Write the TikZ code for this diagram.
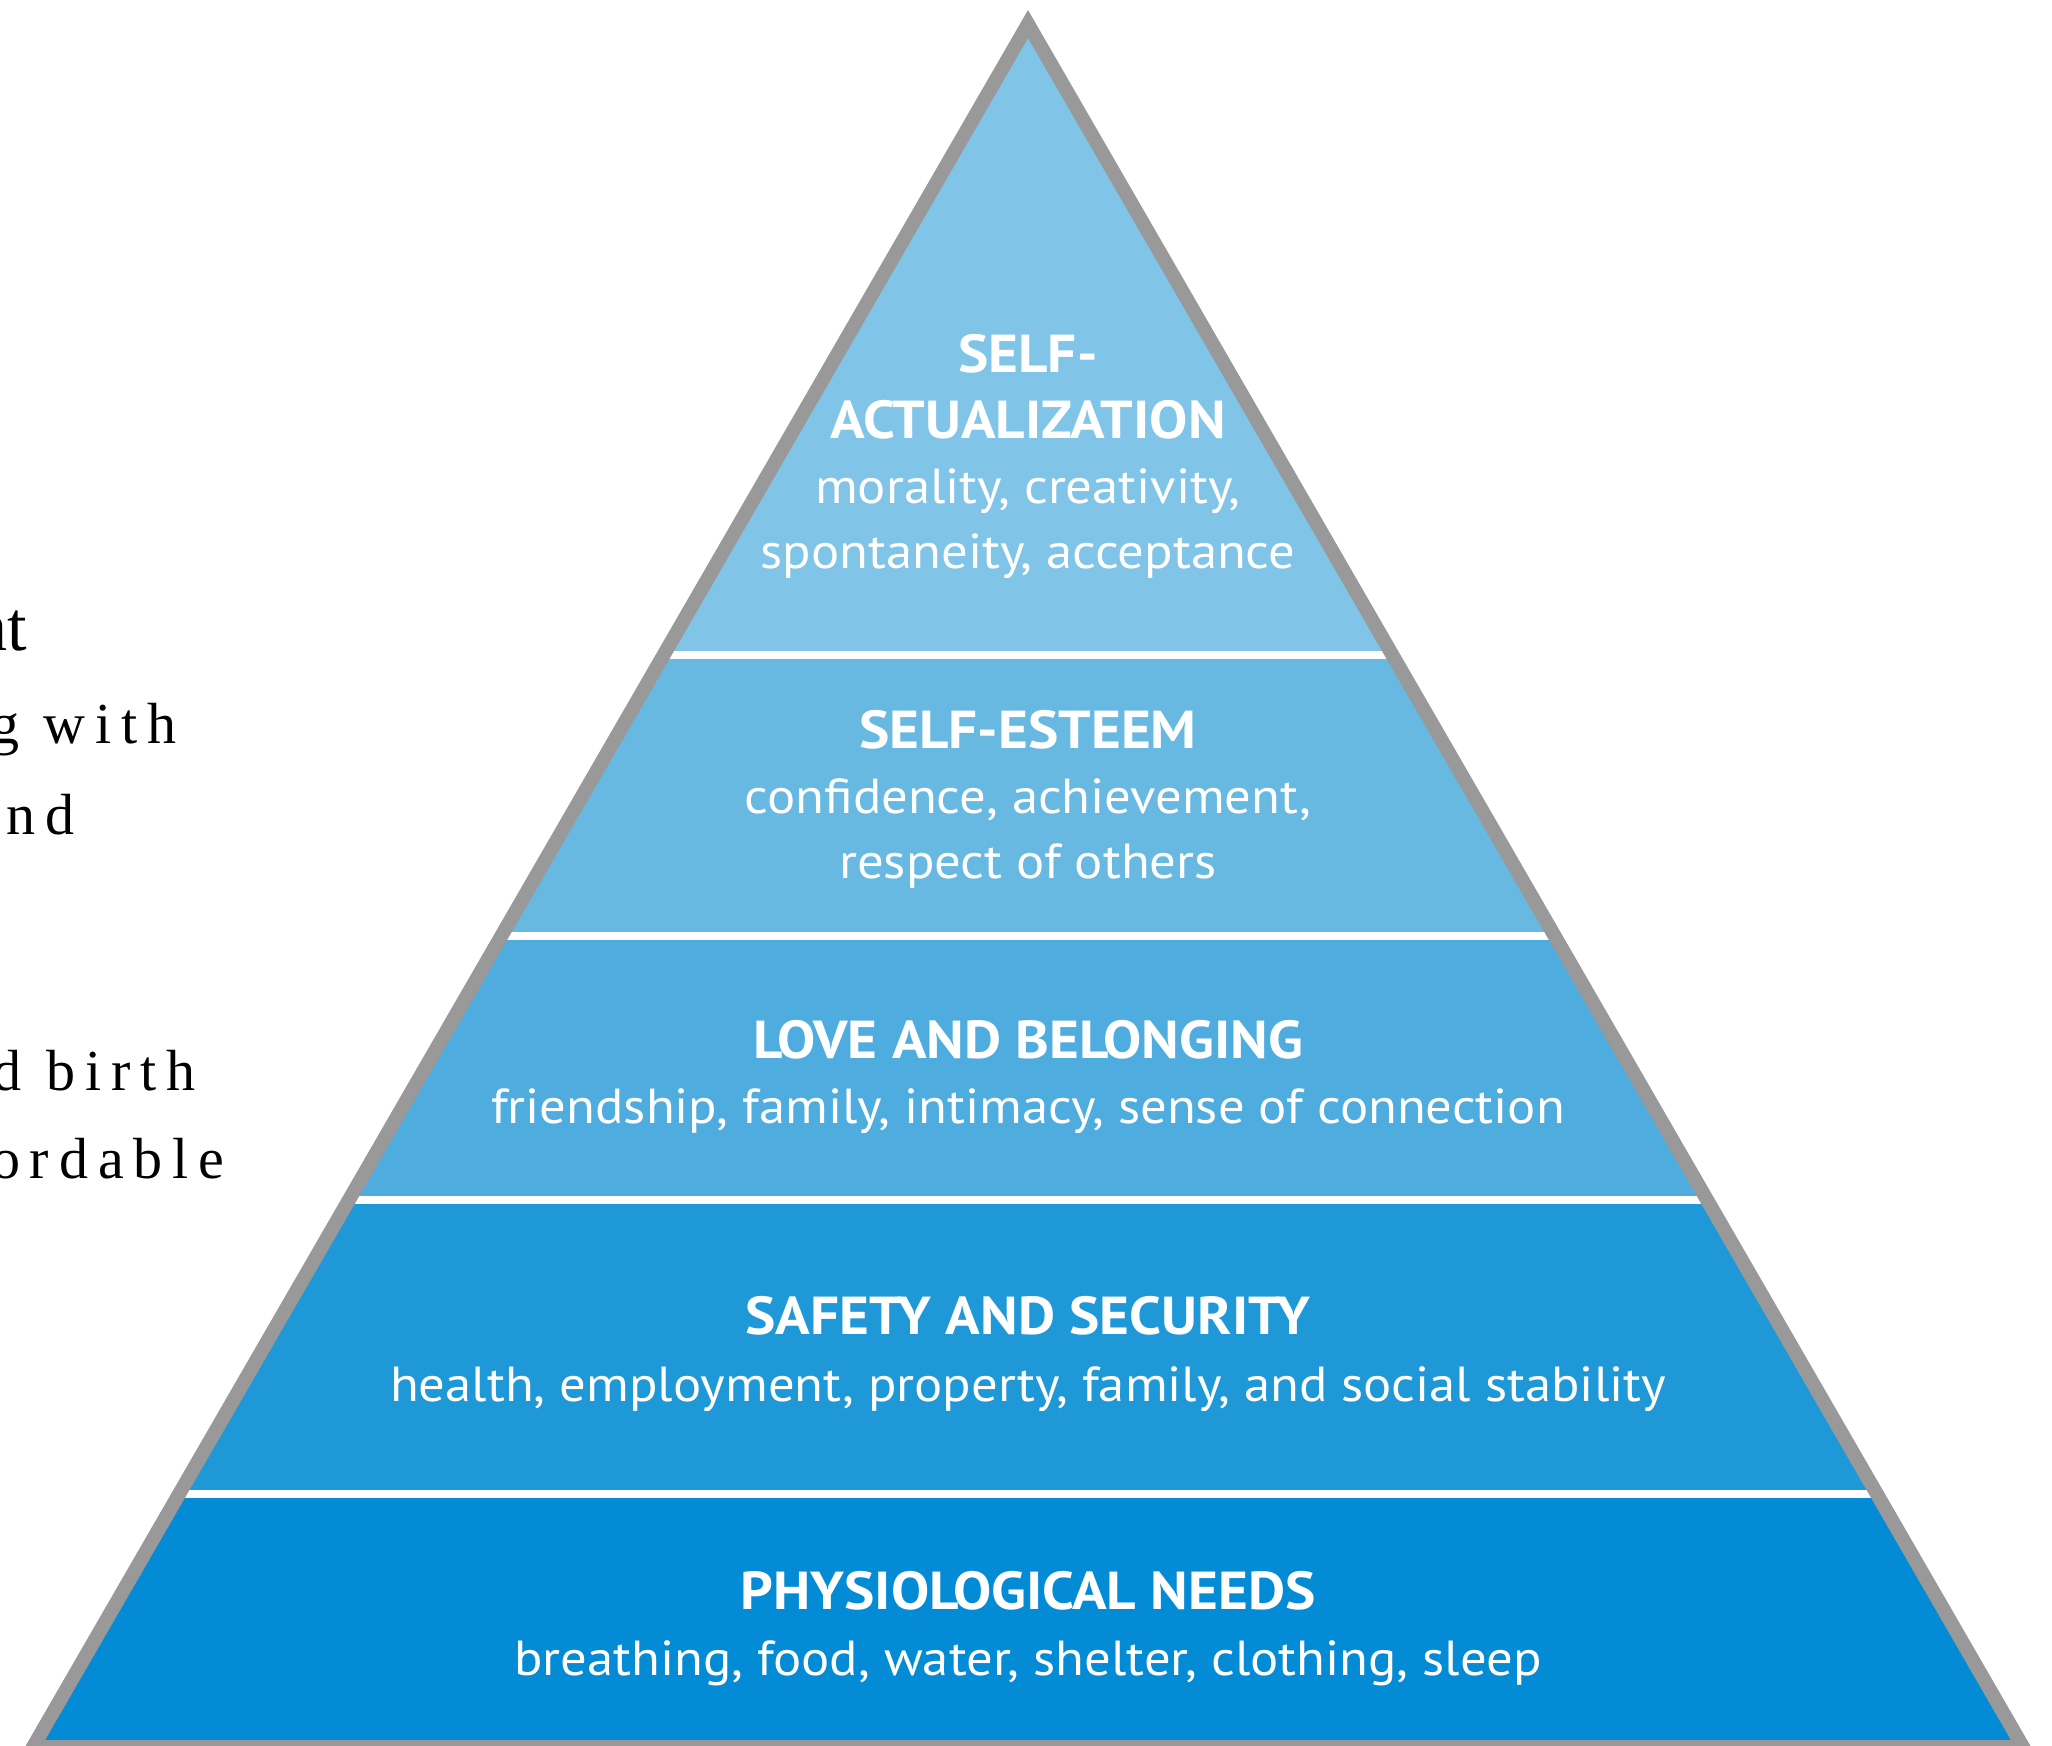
\documentclass[tikz,border=0pt]{standalone}
\usepackage{fontspec}
\setmainfont{PT Sans}[FakeStretch=1.07]
\newfontfamily\pagefont[LetterSpace=17]{Liberation Serif}
\newfontfamily\pagefontplain{Liberation Serif}
\usetikzlibrary{positioning}

\definecolor{tiertop}{HTML}{80C4E7}
\definecolor{tierfour}{HTML}{67B9E2}
\definecolor{tierthree}{HTML}{4EACDE}
\definecolor{tiertwo}{HTML}{1E98D6}
\definecolor{tierbase}{HTML}{048BD5}
\definecolor{rimgrey}{HTML}{999999}

\begin{document}
\begin{tikzpicture}[x=0.01cm, y=-0.01cm,
head/.style={text=white, font=\fontsize{15.2}{18}\selectfont\bfseries, inner sep=0},
need/.style={text=white, font=\fontsize{14}{17}\selectfont, inner sep=0},
pagetext/.style={font=\pagefont\fontsize{16.5}{20}\selectfont, inner sep=0, anchor=base east}
]
\useasboundingbox (0,0) rectangle (2052,1746);
\clip (0,0) rectangle (2052,1746);

% text of the page behind the figure
\node[pagetext, font=\pagefontplain\fontsize{20}{22}\selectfont] (lineone) at (28,650) {nt};
\node[pagetext] (linetwo) at (177,743) {g with};
\node[pagetext] (linethree) at (75,834) {nd};
\node[pagetext] (linefour) at (196,1090) {d birth};
\node[pagetext] (linefive) at (225,1178) {ordable};

\coordinate (apex) at (1028,24);
\coordinate (baseleft) at (33,1747);
\coordinate (baseright) at (2023,1747);

% tiers
\begin{scope}
\clip (apex) -- (baseright) -- (baseleft) -- cycle;
\fill[tiertop] (0,0) rectangle (2052,655);
\fill[tierfour] (0,655) rectangle (2052,936);
\fill[tierthree] (0,936) rectangle (2052,1200);
\fill[tiertwo] (0,1200) rectangle (2052,1494);
\fill[tierbase] (0,1494) rectangle (2052,1760);
\foreach \y in {655,936,1200,1494}
  \draw[white, line width=0.08cm] (0,\y) -- (2052,\y);
\end{scope}
\draw[rimgrey, line width=0.14cm, line join=miter] (apex) -- (baseright) -- (baseleft) -- cycle;

% self-actualization
\node[head, anchor=base] (actual) at (1028,373) {SELF-};
\node[head, below=0.65cm of actual.base, anchor=base] (actualtwo) {ACTUALIZATION};
\node[need, below=0.65cm of actualtwo.base, anchor=base] (actualthree) {morality, creativity,};
\node[need, below=0.65cm of actualthree.base, anchor=base] (actualfour) {spontaneity, acceptance};

% self-esteem
\node[head, anchor=base] (esteem) at (1028,748) {SELF-ESTEEM};
\node[need, below=0.65cm of esteem.base, anchor=base] (esteemtwo) {confidence, achievement,};
\node[need, below=0.65cm of esteemtwo.base, anchor=base] (esteemthree) {respect of others};

% love
\node[head, anchor=base] (love) at (1028,1058) {LOVE AND BELONGING};
\node[need, below=0.65cm of love.base, anchor=base] (lovetwo) {friendship, family, intimacy, sense of connection};

% safety
\node[head, anchor=base] (safety) at (1028,1334) {SAFETY AND SECURITY};
\node[need, below=0.67cm of safety.base, anchor=base] (safetytwo) {health, employment, property, family, and social stability};

% physiological
\node[head, anchor=base] (physio) at (1028,1609) {PHYSIOLOGICAL NEEDS};
\node[need, below=0.66cm of physio.base, anchor=base] (physiotwo) {breathing, food, water, shelter, clothing, sleep};
\end{tikzpicture}
\end{document}
